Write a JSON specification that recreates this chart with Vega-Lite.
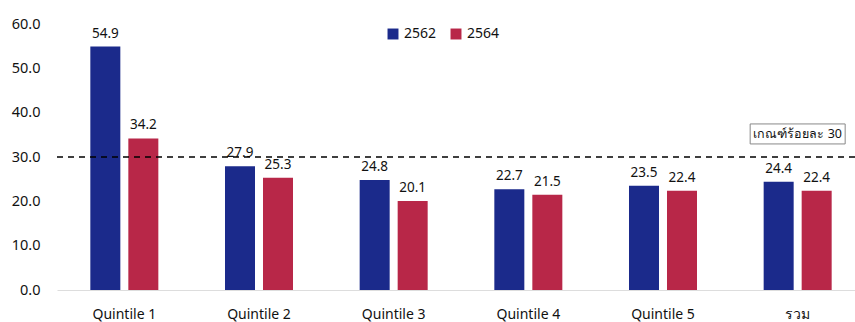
{
  "$schema": "https://vega.github.io/schema/vega-lite/v6.json",
  "width": 798,
  "height": 266,
  "autosize": {"type": "none"},
  "padding": {"left": 57, "top": 24, "right": 0, "bottom": 32},
  "config": {
    "font": "Noto Sans",
    "view": {"stroke": null},
    "axis": {"labelFont": "Noto Sans", "labelColor": "#111111"}
  },
  "datasets": {
    "bars": [
      {"group": "Quintile 1", "year": "2562", "value": 54.9},
      {"group": "Quintile 1", "year": "2564", "value": 34.2},
      {"group": "Quintile 2", "year": "2562", "value": 27.9},
      {"group": "Quintile 2", "year": "2564", "value": 25.3},
      {"group": "Quintile 3", "year": "2562", "value": 24.8},
      {"group": "Quintile 3", "year": "2564", "value": 20.1},
      {"group": "Quintile 4", "year": "2562", "value": 22.7},
      {"group": "Quintile 4", "year": "2564", "value": 21.5},
      {"group": "Quintile 5", "year": "2562", "value": 23.5},
      {"group": "Quintile 5", "year": "2564", "value": 22.4},
      {"group": "รวม", "year": "2562", "value": 24.4},
      {"group": "รวม", "year": "2564", "value": 22.4}
    ],
    "threshold": [
      {"group": "รวม", "value": 30, "labelY": 35.2, "label": "เกณฑ์ร้อยละ 30"}
    ]
  },
  "layer": [
    {
      "data": {"name": "bars"},
      "mark": {"type": "bar"},
      "encoding": {
        "x": {
          "field": "group", "type": "nominal", "sort": null,
          "scale": {"range": [0, 808], "paddingInner": 0.495, "paddingOuter": 0.2475},
          "axis": {
            "title": null, "labelAngle": 0, "ticks": false,
            "domainColor": "#dddddd", "labelFontSize": 14, "labelPadding": 17
          }
        },
        "xOffset": {
          "field": "year", "type": "nominal",
          "scale": {"paddingInner": 0.2105, "paddingOuter": 0}
        },
        "y": {
          "field": "value", "type": "quantitative",
          "scale": {"domain": [0, 60], "nice": false},
          "axis": {
            "title": null, "values": [0, 10, 20, 30, 40, 50, 60], "format": ".1f",
            "grid": false, "ticks": false, "domain": false,
            "labelFontSize": 14.5, "labelPadding": 17
          }
        },
        "color": {
          "field": "year", "type": "nominal",
          "scale": {"domain": ["2562", "2564"], "range": ["#1B2A8B", "#B82748"]},
          "legend": {
            "title": null, "orient": "none", "direction": "horizontal",
            "legendX": 329, "legendY": 3, "symbolType": "square", "symbolSize": 120,
            "labelFontSize": 14, "columnPadding": 12, "labelColor": "#111111",
            "symbolStrokeWidth": 0
          }
        }
      }
    },
    {
      "data": {"name": "bars"},
      "mark": {"type": "text", "baseline": "bottom", "dy": -6, "fontSize": 13.5, "color": "#111111"},
      "encoding": {
        "x": {"field": "group", "type": "nominal", "sort": null},
        "xOffset": {"field": "year", "type": "nominal"},
        "y": {"field": "value", "type": "quantitative"},
        "text": {"field": "value", "type": "quantitative", "format": ".1f"}
      }
    },
    {
      "data": {"name": "threshold"},
      "mark": {"type": "rule", "strokeDash": [6, 5], "color": "#000000", "strokeWidth": 1.5},
      "encoding": {
        "y": {"field": "value", "type": "quantitative"}
      }
    },
    {
      "data": {"name": "threshold"},
      "mark": {"type": "rect", "width": 95, "height": 20, "fill": "white", "stroke": "#888888", "strokeWidth": 1},
      "encoding": {
        "x": {"field": "group", "type": "nominal", "sort": null, "bandPosition": 0.5},
        "y": {"field": "labelY", "type": "quantitative"}
      }
    },
    {
      "data": {"name": "threshold"},
      "mark": {"type": "text", "fontSize": 12.5, "color": "#111111", "align": "center", "baseline": "middle"},
      "encoding": {
        "x": {"field": "group", "type": "nominal", "sort": null, "bandPosition": 0.5},
        "y": {"field": "labelY", "type": "quantitative"},
        "text": {"field": "label"}
      }
    }
  ]
}
